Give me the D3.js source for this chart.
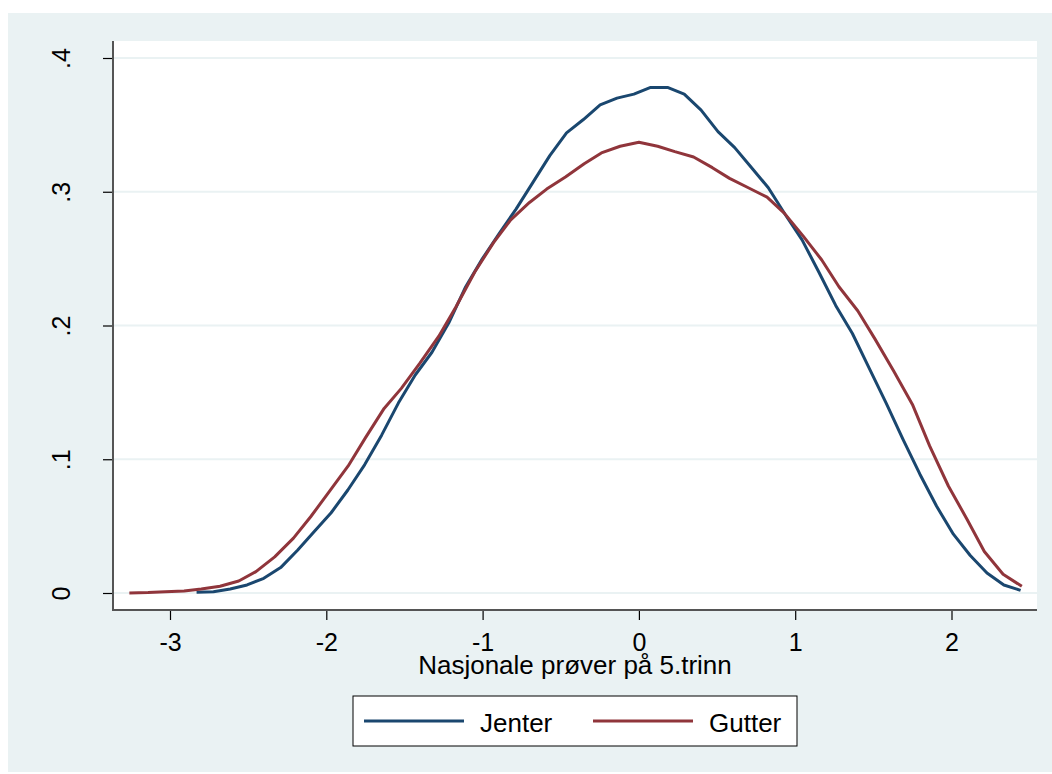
<!DOCTYPE html>
<html>
<head>
<meta charset="utf-8">
<script src="https://cdn.jsdelivr.net/npm/d3@7"></script>
<style>
  html, body { margin: 0; padding: 0; background: #ffffff; }
  svg { display: block; }
  text { font-family: "Liberation Sans", Arial, Helvetica, sans-serif; fill: #000; }
</style>
</head>
<body>
<div id="chart"></div>
<script>
// ---- Data ----
const xTicks = [-3, -2, -1, 0, 1, 2];
const yTicks = [0, 0.1, 0.2, 0.3, 0.4];
const yTickLabels = ["0", ".1", ".2", ".3", ".4"];
const xTitle = "Nasjonale prøver på 5.trinn";
const seriesNames = ["Jenter", "Gutter"];

const jenterX = [-2.830, -2.722, -2.615, -2.507, -2.400, -2.292, -2.184, -2.077, -1.969, -1.862,
                 -1.754, -1.646, -1.539, -1.431, -1.324, -1.216, -1.108, -1.001, -0.893, -0.786,
                 -0.678, -0.570, -0.463, -0.355, -0.248, -0.140, -0.032, 0.075, 0.183, 0.290,
                 0.398, 0.506, 0.613, 0.721, 0.828, 0.936, 1.044, 1.151, 1.259, 1.366,
                 1.474, 1.582, 1.689, 1.797, 1.904, 2.012, 2.120, 2.227, 2.335, 2.442];
const jenterY = [0.0005, 0.001, 0.003, 0.006, 0.011, 0.019, 0.032, 0.046, 0.060, 0.077,
                 0.096, 0.118, 0.142, 0.163, 0.180, 0.202, 0.229, 0.250, 0.269, 0.287,
                 0.307, 0.327, 0.344, 0.354, 0.365, 0.370, 0.373, 0.378, 0.378, 0.373,
                 0.361, 0.345, 0.333, 0.318, 0.303, 0.283, 0.264, 0.240, 0.215, 0.194,
                 0.168, 0.142, 0.115, 0.089, 0.065, 0.044, 0.028, 0.015, 0.006, 0.002];

const gutterX = [-3.26, -3.14, -3.03, -2.91, -2.80, -2.68, -2.56, -2.45, -2.33, -2.21,
                 -2.10, -1.98, -1.86, -1.75, -1.63, -1.52, -1.40, -1.28, -1.17, -1.05,
                 -0.93, -0.82, -0.70, -0.59, -0.47, -0.35, -0.24, -0.12, 0.00, 0.12,
                 0.23, 0.35, 0.47, 0.58, 0.70, 0.82, 0.93, 1.05, 1.17, 1.28,
                 1.40, 1.51, 1.63, 1.75, 1.86, 1.98, 2.10, 2.21, 2.33, 2.45];
const gutterY = [0.000, 0.0003, 0.001, 0.0015, 0.003, 0.005, 0.009, 0.016, 0.027, 0.041,
                 0.057, 0.076, 0.095, 0.116, 0.138, 0.153, 0.172, 0.192, 0.214, 0.240,
                 0.262, 0.279, 0.292, 0.302, 0.311, 0.321, 0.329, 0.334, 0.337, 0.334,
                 0.330, 0.326, 0.318, 0.310, 0.303, 0.296, 0.284, 0.267, 0.249, 0.229,
                 0.211, 0.190, 0.166, 0.141, 0.110, 0.080, 0.055, 0.031, 0.014, 0.005];

const colors = ["#1a476f", "#90353b"];

// ---- Layout ----
const W = 1052, H = 774;
const plot = { left: 113, right: 1037, top: 41, bottom: 610 };

const svg = d3.select("#chart").append("svg")
  .attr("width", W).attr("height", H);

// outer graph region
svg.append("rect").attr("x", 8).attr("y", 13).attr("width", W - 8).attr("height", 759)
  .attr("fill", "#eaf2f3");
// plot region
svg.append("rect").attr("x", plot.left).attr("y", plot.top)
  .attr("width", plot.right - plot.left).attr("height", plot.bottom - plot.top)
  .attr("fill", "#ffffff");

const x = d3.scaleLinear().domain([-3, 2]).range([170, 951.5]);
const y = d3.scaleLinear().domain([0, 0.4]).range([593, 58]);

// grid lines
svg.append("g").selectAll("line").data(yTicks).join("line")
  .attr("x1", plot.left + 1).attr("x2", plot.right)
  .attr("y1", d => y(d)).attr("y2", d => y(d))
  .attr("stroke", "#eaf2f3").attr("stroke-width", 2);

// y axis
const yAxis = d3.axisLeft(y).tickValues(yTicks).tickSize(10).tickPadding(0)
  .tickFormat((d, i) => yTickLabels[i]);
const gy = svg.append("g").attr("transform", `translate(${plot.left},0)`).call(yAxis);
gy.select(".domain").remove();
gy.selectAll(".tick line").attr("stroke", "#000").attr("stroke-width", 1.2);
gy.selectAll(".tick text")
  .attr("x", null).attr("dy", null)
  .attr("transform", "translate(-43,0) rotate(-90)")
  .attr("text-anchor", "middle")
  .attr("font-size", 25)
  .style("font-family", "'Liberation Sans', Arial, sans-serif");
svg.append("line").attr("x1", plot.left).attr("x2", plot.left)
  .attr("y1", plot.top).attr("y2", plot.bottom + 1)
  .attr("stroke", "#555").attr("stroke-width", 2);

// x axis
const xAxis = d3.axisBottom(x).tickValues(xTicks).tickSize(10).tickPadding(0)
  .tickFormat(d3.format("d"));
const gx = svg.append("g").attr("transform", `translate(0,${plot.bottom})`).call(xAxis);
gx.select(".domain").remove();
gx.selectAll(".tick line").attr("stroke", "#000").attr("stroke-width", 1.2);
gx.selectAll(".tick text")
  .attr("y", 41).attr("dy", null)
  .attr("font-size", 25)
  .style("font-family", "'Liberation Sans', Arial, sans-serif")
  .text(d => d < 0 ? "-" + Math.abs(d) : String(d));
svg.append("line").attr("x1", plot.left - 1).attr("x2", plot.right)
  .attr("y1", plot.bottom).attr("y2", plot.bottom)
  .attr("stroke", "#555").attr("stroke-width", 2);

// x title
svg.append("text").attr("x", (plot.left + plot.right) / 2).attr("y", 674)
  .attr("text-anchor", "middle").attr("font-size", 26).text(xTitle);

// lines
const series = [
  { name: seriesNames[0], xs: jenterX, ys: jenterY, color: colors[0] },
  { name: seriesNames[1], xs: gutterX, ys: gutterY, color: colors[1] }
];
const line = d3.line().x(d => x(d[0])).y(d => y(d[1]));
series.forEach(s => {
  const pts = s.xs.map((v, i) => [v, s.ys[i]]);
  svg.append("path").datum(pts).attr("d", line)
    .attr("fill", "none").attr("stroke", s.color).attr("stroke-width", 3)
    .attr("stroke-linejoin", "round");
});

// legend
const lg = svg.append("g");
lg.append("rect").attr("x", 353).attr("y", 696).attr("width", 444).attr("height", 50)
  .attr("fill", "#fff").attr("stroke", "#000").attr("stroke-width", 1);
const legendPos = [{ x1: 364, x2: 464, tx: 480 }, { x1: 593, x2: 693, tx: 709 }];
series.forEach((s, i) => {
  lg.append("line").attr("x1", legendPos[i].x1).attr("x2", legendPos[i].x2)
    .attr("y1", 721).attr("y2", 721).attr("stroke", s.color).attr("stroke-width", 3);
  lg.append("text").attr("x", legendPos[i].tx).attr("y", 732)
    .attr("font-size", 26).text(s.name);
});
</script>
</body>
</html>
